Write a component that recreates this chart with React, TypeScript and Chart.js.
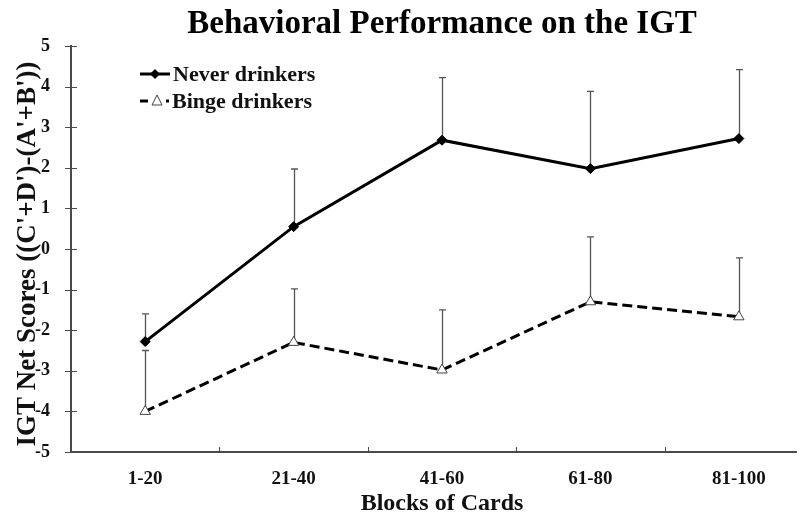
import React, { useEffect, useRef } from "react";
import { Chart, registerables } from "chart.js";

Chart.register(...registerables);

const categories = ["1-20", "21-40", "41-60", "61-80", "81-100"];
const neverDrinkers = [-2.28, 0.55, 2.68, 1.98, 2.72];
const neverErr = [0.68, 1.42, 1.54, 1.9, 1.7];
const bingeDrinkers = [-4.0, -2.3, -2.98, -1.3, -1.67];
const bingeErr = [1.5, 1.32, 1.48, 1.6, 1.45];
const yTicks = [-5, -4, -3, -2, -1, 0, 1, 2, 3, 4, 5];

const titleText = "Behavioral Performance on the IGT";
const xTitle = "Blocks of Cards";
const yTitle = "IGT Net Scores ((C'+D')-(A'+B'))";
const seriesNames = ["Never drinkers", "Binge drinkers"];

const FONT = "'Liberation Serif', 'Times New Roman', serif";
const AXIS = "#4a4a4a";

const errorBarPlugin = {
  id: "errorBars",
  beforeDatasetsDraw(chart: any) {
    const { ctx } = chart;
    const x = chart.scales.x;
    const y = chart.scales.y;
    const errs = [neverErr, bingeErr];
    ctx.save();
    ctx.strokeStyle = "#555";
    ctx.lineWidth = 1.3;
    chart.data.datasets.forEach((ds: any, di: number) => {
      ds.data.forEach((p: any, i: number) => {
        const px = Math.round(x.getPixelForValue(p.x)) + 0.5;
        const py0 = y.getPixelForValue(p.y);
        const py1 = y.getPixelForValue(p.y + errs[di][i]);
        ctx.beginPath();
        ctx.moveTo(px, py0);
        ctx.lineTo(px, py1);
        ctx.moveTo(px - 3.5, py1);
        ctx.lineTo(px + 3.5, py1);
        ctx.stroke();
      });
    });
    ctx.restore();
  },
  afterDraw(chart: any) {
    const { ctx, chartArea } = chart;
    const x = chart.scales.x;
    const y = chart.scales.y;
    const mid = x.getPixelForValue((categories.length - 1) / 2);
    ctx.save();
    // titles
    ctx.fillStyle = "#000";
    ctx.textAlign = "center";
    ctx.textBaseline = "alphabetic";
    ctx.font = `bold 33px ${FONT}`;
    ctx.fillText(titleText, mid, 33);
    ctx.fillStyle = "#111";
    ctx.font = `bold 24px ${FONT}`;
    ctx.fillText(xTitle, mid, 510);
    ctx.save();
    ctx.translate(28, (chartArea.top + chartArea.bottom) / 2 + 5);
    ctx.rotate(-Math.PI / 2);
    ctx.textBaseline = "middle";
    ctx.font = `bold 27px ${FONT}`;
    ctx.fillText(yTitle, 0, 0);
    ctx.restore();

    ctx.strokeStyle = AXIS;
    ctx.lineWidth = 1;
    // y tick marks crossing the axis
    y.ticks.forEach((_t: any, i: number) => {
      const py = Math.round(y.getPixelForTick(i)) + 0.5;
      ctx.beginPath();
      ctx.moveTo(chartArea.left - 6, py);
      ctx.lineTo(chartArea.left + 6, py);
      ctx.stroke();
    });
    // x tick marks between categories, pointing inward
    for (let i = 0; i < categories.length - 1; i++) {
      const px = Math.round(x.getPixelForValue(i + 0.5)) + 0.5;
      ctx.beginPath();
      ctx.moveTo(px, chartArea.bottom);
      ctx.lineTo(px, chartArea.bottom - 5);
      ctx.stroke();
    }
    // legend inside plot area
    const lx = chartArea.left + 69;
    const rows = [chartArea.top + 28, chartArea.top + 55];
    ctx.font = `bold 22px ${FONT}`;
    ctx.textBaseline = "middle";
    ctx.textAlign = "left";
    // row 1: solid + diamond
    ctx.strokeStyle = "#000";
    ctx.lineWidth = 3;
    ctx.beginPath();
    ctx.moveTo(lx, rows[0]);
    ctx.lineTo(lx + 30, rows[0]);
    ctx.stroke();
    ctx.fillStyle = "#000";
    ctx.beginPath();
    ctx.moveTo(lx + 15, rows[0] - 5);
    ctx.lineTo(lx + 20, rows[0]);
    ctx.lineTo(lx + 15, rows[0] + 5);
    ctx.lineTo(lx + 10, rows[0]);
    ctx.closePath();
    ctx.fill();
    ctx.fillStyle = "#111";
    ctx.fillText(seriesNames[0], lx + 33, rows[0] + 1);
    // row 2: dashed + triangle
    ctx.strokeStyle = "#000";
    ctx.lineWidth = 3;
    ctx.beginPath();
    ctx.moveTo(lx, rows[1]);
    ctx.lineTo(lx + 8, rows[1]);
    ctx.moveTo(lx + 26, rows[1]);
    ctx.lineTo(lx + 29, rows[1]);
    ctx.stroke();
    ctx.lineWidth = 1;
    ctx.strokeStyle = "#444";
    ctx.fillStyle = "#fff";
    ctx.beginPath();
    ctx.moveTo(lx + 17, rows[1] - 6);
    ctx.lineTo(lx + 22, rows[1] + 4);
    ctx.lineTo(lx + 12, rows[1] + 4);
    ctx.closePath();
    ctx.fill();
    ctx.stroke();
    ctx.fillStyle = "#111";
    ctx.fillText(seriesNames[1], lx + 32, rows[1] + 1);
    ctx.restore();
  },
};

export default function App() {
  const ref = useRef<HTMLCanvasElement | null>(null);
  useEffect(() => {
    if (!ref.current) return;
    const chart = new Chart(ref.current, {
      type: "line",
      data: {
        datasets: [
          {
            label: seriesNames[0],
            data: neverDrinkers.map((v, i) => ({ x: i, y: v })),
            borderColor: "#000",
            backgroundColor: "#000",
            borderWidth: 3,
            pointStyle: "rectRot",
            pointRadius: 5,
            pointBorderWidth: 1,
            pointBackgroundColor: "#000",
            pointBorderColor: "#000",
            tension: 0,
          },
          {
            label: seriesNames[1],
            data: bingeDrinkers.map((v, i) => ({ x: i, y: v })),
            borderColor: "#000",
            backgroundColor: "#fff",
            borderWidth: 3,
            borderDash: [10, 5],
            pointStyle: "triangle",
            pointRadius: 6,
            pointBorderWidth: 1,
            pointBackgroundColor: "#fff",
            pointBorderColor: "#444",
            tension: 0,
          },
        ],
      },
      options: {
        animation: false,
        responsive: false,
        layout: { padding: { left: 0, right: 0, top: 46, bottom: 0 } },
        plugins: {
          legend: { display: false },
          tooltip: { enabled: false },
          title: { display: false },
        },
        scales: {
          x: {
            type: "linear",
            min: -0.5,
            max: 4.385,
            afterBuildTicks: (s: any) => {
              s.ticks = categories.map((_c, i) => ({ value: i }));
            },
            grid: { display: false, drawTicks: false },
            border: { display: true, color: AXIS, width: 2 },
            ticks: {
              color: "#111",
              padding: 16,
              autoSkip: false,
              maxRotation: 0,
              font: { family: FONT, size: 19, weight: "bold" },
              callback: (v: any) => categories[Math.round(Number(v))] ?? "",
            },
            title: { display: false },
            afterFit: (s: any) => {
              s.height = 62;
            },
          },
          y: {
            min: -5,
            max: 5,
            afterBuildTicks: (s: any) => {
              s.ticks = yTicks.map((v) => ({ value: v }));
            },
            grid: { display: false, drawTicks: false },
            border: { display: true, color: AXIS, width: 2 },
            ticks: {
              color: "#111",
              padding: 21,
              font: { family: FONT, size: 18, weight: "bold" },
            },
            title: { display: false },
            afterFit: (s: any) => {
              s.width = 71;
            },
          },
        },
      },
      plugins: [errorBarPlugin],
    });
    return () => chart.destroy();
  }, []);
  return (
    <div style={{ position: "absolute", left: 0, top: 0, width: 803, height: 514 }}>
      <canvas ref={ref} width={803} height={514} style={{ display: "block" }} />
    </div>
  );
}
